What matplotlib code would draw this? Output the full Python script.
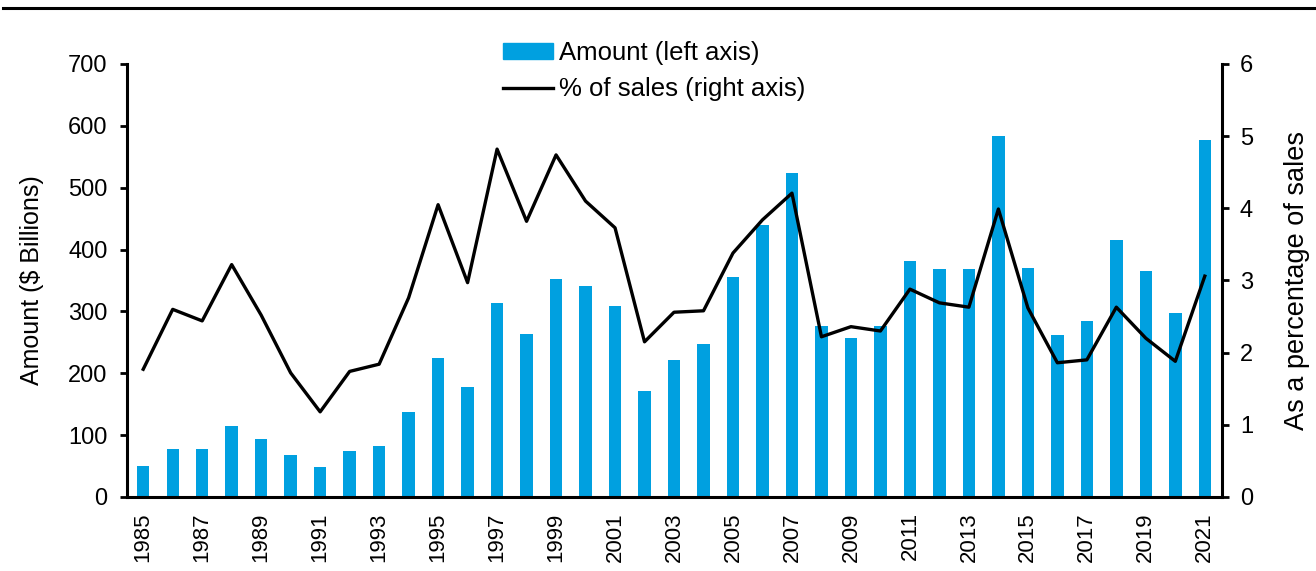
import numpy as np
import matplotlib.pyplot as plt
from matplotlib.lines import Line2D

plt.rcParams["font.family"] = ["Liberation Sans", "DejaVu Sans"]

years = list(range(1985, 2022))
amount = [50, 77, 78, 114, 94, 68, 48, 75, 83, 138,
          224, 178, 314, 264, 353, 341, 308, 172, 222, 248,
          355, 440, 524, 277, 257, 277, 382, 368, 369, 583,
          370, 262, 284, 416, 365, 298, 577]
pct_sales = [1.77, 2.60, 2.44, 3.22, 2.52, 1.72, 1.18, 1.74, 1.84, 2.76,
             4.05, 2.97, 4.82, 3.82, 4.74, 4.10, 3.73, 2.15, 2.56, 2.58,
             3.38, 3.84, 4.21, 2.22, 2.36, 2.30, 2.88, 2.69, 2.63, 3.99,
             2.62, 1.86, 1.90, 2.63, 2.20, 1.88, 3.06]

BLUE = "#00A0E0"

fig = plt.figure(figsize=(13.16, 5.71), dpi=100)
ax = fig.add_axes([0.0965, 0.1296, 0.832, 0.7584])
ax2 = ax.twinx()

x = np.arange(len(years))
ax.bar(x, amount, width=0.42, color=BLUE, zorder=2)
ax2.plot(x, pct_sales, color="black", lw=2.4, zorder=3)

ax.set_xlim(-0.55, len(years) - 0.42)
ax.set_ylim(0, 700)
ax.set_yticks(range(0, 701, 100))
ax2.set_ylim(0, 6)
ax2.set_yticks(range(0, 7))

ax.set_xticks(x[::2])
ax.set_xticklabels([str(y) for y in years[::2]], rotation=90, fontsize=16)
ax.tick_params(axis="x", length=0, pad=11)
ax.tick_params(axis="y", labelsize=17, width=2, length=5, direction="out", pad=9)
ax2.tick_params(axis="y", labelsize=17, width=2, length=5, direction="out", pad=8)

for a in (ax, ax2):
    a.spines["top"].set_visible(False)
    for s in ("left", "right", "bottom"):
        a.spines[s].set_linewidth(2.2)
ax.spines["right"].set_visible(False)
ax2.spines["left"].set_visible(False)
ax2.spines["bottom"].set_visible(False)

ax.set_ylabel("Amount ($ Billions)", fontsize=18, labelpad=17)
ax2.set_ylabel("As a percentage of sales", fontsize=19.5, labelpad=22)

handles = [plt.Rectangle((0, 0), 1, 1, color=BLUE),
           Line2D([0], [0], color="black", lw=2.4)]
fig.legend(handles, ["Amount (left axis)", "% of sales (right axis)"],
           loc="upper left", bbox_to_anchor=(0.382, 0.928), frameon=False,
           fontsize=18.5, handlelength=1.95, handleheight=0.6,
           handletextpad=0.25, labelspacing=0.48, borderaxespad=0,
           borderpad=0)

# rule across the top of the figure
fig.add_artist(Line2D([0.002, 1.0], [0.986, 0.986], color="black", lw=2.2,
                      transform=fig.transFigure))

fig.savefig("out.png", dpi=100, facecolor="white")
